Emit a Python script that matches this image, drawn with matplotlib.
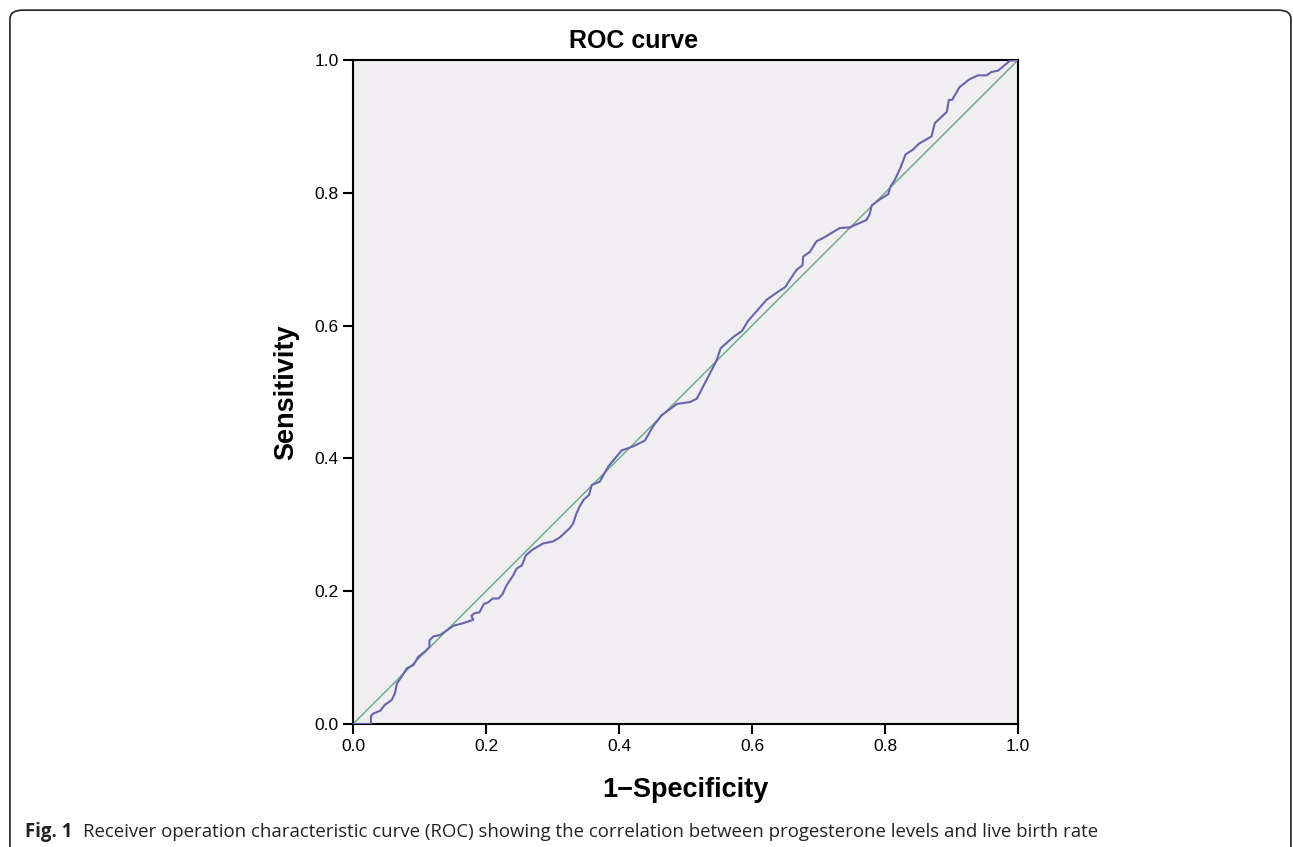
import matplotlib
matplotlib.use("Agg")
import matplotlib.pyplot as plt
from matplotlib.patches import FancyBboxPatch

# ROC curve
fpr = [0.0, 0.027, 0.027, 0.031, 0.041, 0.048, 0.058, 0.063, 0.066, 0.073, 0.081,
       0.091, 0.098, 0.108, 0.115, 0.115, 0.121, 0.131, 0.151, 0.166, 0.181, 0.178,
       0.183, 0.190, 0.197, 0.203, 0.210, 0.219, 0.225, 0.231, 0.241, 0.246, 0.254,
       0.260, 0.269, 0.286, 0.301, 0.311, 0.326, 0.331, 0.336, 0.341, 0.347, 0.355,
       0.359, 0.371, 0.384, 0.404, 0.421, 0.439, 0.451, 0.464, 0.487, 0.507, 0.517,
       0.529, 0.546, 0.553, 0.572, 0.585, 0.594, 0.622, 0.642, 0.650, 0.657, 0.667,
       0.676, 0.677, 0.687, 0.697, 0.707, 0.722, 0.732, 0.747, 0.772, 0.777, 0.780,
       0.792, 0.805, 0.808, 0.815, 0.823, 0.831, 0.842, 0.851, 0.870, 0.875, 0.893,
       0.896, 0.901, 0.912, 0.927, 0.940, 0.953, 0.960, 0.970, 0.988, 1.0]
tpr = [0.0, 0.0, 0.012, 0.016, 0.020, 0.029, 0.036, 0.046, 0.061, 0.071, 0.084,
       0.089, 0.101, 0.109, 0.116, 0.126, 0.132, 0.134, 0.148, 0.152, 0.157, 0.163,
       0.167, 0.168, 0.181, 0.183, 0.189, 0.189, 0.196, 0.209, 0.224, 0.234, 0.239,
       0.254, 0.262, 0.272, 0.275, 0.281, 0.295, 0.302, 0.317, 0.328, 0.338, 0.345,
       0.360, 0.365, 0.388, 0.412, 0.418, 0.427, 0.448, 0.465, 0.482, 0.485, 0.490,
       0.513, 0.546, 0.566, 0.583, 0.592, 0.607, 0.639, 0.653, 0.658, 0.669, 0.684,
       0.691, 0.704, 0.711, 0.727, 0.732, 0.741, 0.747, 0.748, 0.759, 0.768, 0.781,
       0.790, 0.798, 0.809, 0.820, 0.837, 0.858, 0.865, 0.874, 0.885, 0.905, 0.922,
       0.940, 0.940, 0.959, 0.971, 0.977, 0.977, 0.982, 0.984, 0.999, 1.0]
ref_line = [0.0, 1.0]
ticks = [0.0, 0.2, 0.4, 0.6, 0.8, 1.0]
tick_labels = ["0.0", "0.2", "0.4", "0.6", "0.8", "1.0"]

plt.rcParams['font.family'] = ['Liberation Sans', 'DejaVu Sans']

fig = plt.figure(figsize=(12.93, 8.47), dpi=100)

# rounded frame around the whole figure (bottom edge runs off the image)
frame = FancyBboxPatch((0.0077, -0.05), 0.9907, 1.038,
                       boxstyle="round,pad=0,rounding_size=0.01",
                       transform=fig.transFigure, facecolor='none',
                       edgecolor='#222222', linewidth=1.2)
fig.patches.append(frame)

ax = fig.add_axes([0.273, 0.1452, 0.5143, 0.7839])
ax.set_facecolor('#f0eef1')
ax.plot(ref_line, ref_line, color='#6fae8c', linewidth=1.1, zorder=2)
ax.plot(fpr, tpr, color='#6863ad', linewidth=1.5, zorder=3)

ax.set_xlim(0, 1)
ax.set_ylim(0, 1)
ax.set_xticks(ticks)
ax.set_xticklabels(tick_labels)
ax.set_yticks(ticks)
ax.set_yticklabels(tick_labels)
ax.tick_params(direction='out', length=7.5, width=1.5, pad=3, labelsize=12.5, colors='black')
for s in ax.spines.values():
    s.set_linewidth(1.5)

fig.text(0.490, 0.943, "ROC curve", fontsize=18, fontweight='bold',
         ha='center', va='baseline')
ax.set_xlabel("1\u2212Specificity", fontsize=19.5, fontweight='bold', labelpad=17)
ax.set_ylabel("Sensitivity", fontsize=19.5, fontweight='bold', labelpad=11)

fig.text(0.0193, 0.0118, "Fig. 1", fontsize=13.4, fontweight='bold', color='#222222',
         va='baseline', family=['Open Sans', 'DejaVu Sans'])
fig.text(0.0642, 0.0118,
         "Receiver operation characteristic curve (ROC) showing the correlation between progesterone levels and live birth rate",
         fontsize=13.4, color='#222222', va='baseline', family=['Open Sans', 'DejaVu Sans'])

fig.savefig("out.png", dpi=100)
